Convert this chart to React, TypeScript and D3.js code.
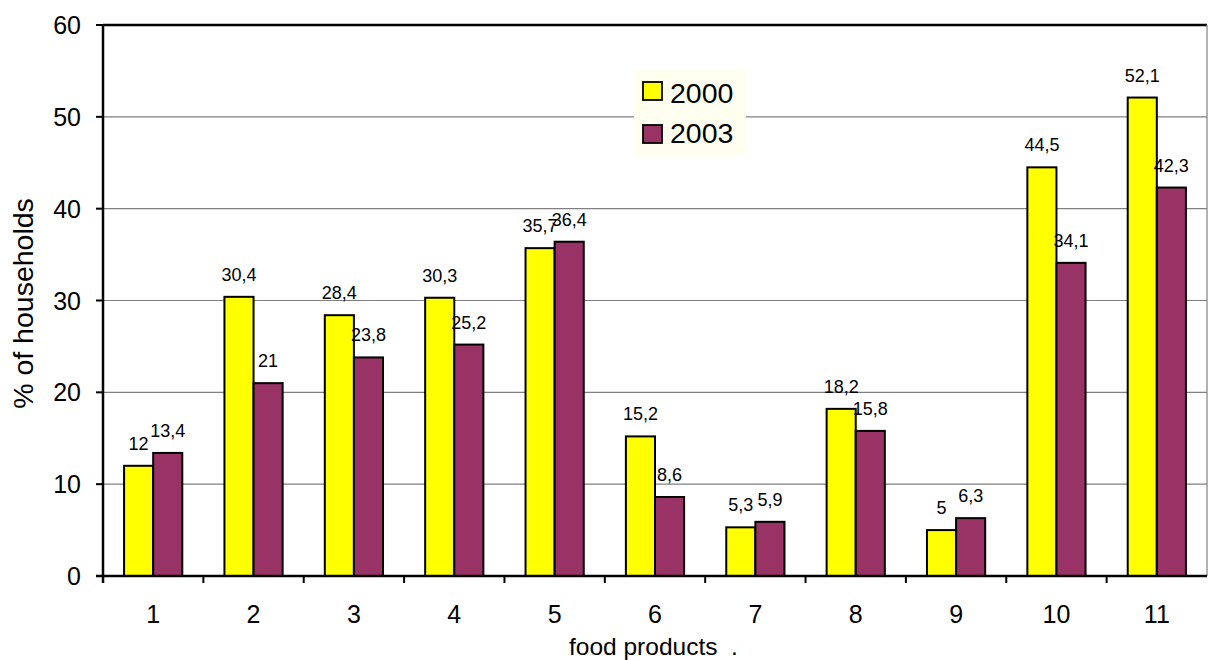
import React from "react";
import * as d3 from "d3";

const categories = ["1", "2", "3", "4", "5", "6", "7", "8", "9", "10", "11"];
const values2000 = [12, 30.4, 28.4, 30.3, 35.7, 15.2, 5.3, 18.2, 5, 44.5, 52.1];
const values2003 = [13.4, 21, 23.8, 25.2, 36.4, 8.6, 5.9, 15.8, 6.3, 34.1, 42.3];
const seriesNames = ["2000", "2003"];
const yTicks = [0, 10, 20, 30, 40, 50, 60];

const W = 1210;
const H = 660;
const left = 103;
const right = 1207;
const top = 25;
const bottom = 576;
const FONT = "'Liberation Sans', Arial, Helvetica, sans-serif";
const colors = ["#FFFF00", "#993366"];

const fmt = (v: number) => String(v).replace(".", ",");

export default function App() {
  const x = d3.scaleBand<string>().domain(categories).range([left, right]).padding(0);
  const bw = x.bandwidth();
  const groupW = bw * 0.58;
  const inner = d3
    .scaleBand<string>()
    .domain(seriesNames)
    .range([(bw - groupW) / 2, (bw + groupW) / 2])
    .padding(0);
  const y = d3.scaleLinear().domain([0, 60]).range([bottom, top]);
  const series = [values2000, values2003];

  return (
    <svg
      width={W}
      height={H}
      style={{ position: "absolute", left: 0, top: 0, background: "#fff" }}
      fontFamily={FONT}
    >
      {/* horizontal gridlines */}
      {yTicks
        .filter((t) => t > 0 && t < 60)
        .map((t) => (
          <line key={t} x1={left} x2={right} y1={y(t)} y2={y(t)} stroke="#808080" strokeWidth={1.2} />
        ))}
      {/* plot frame */}
      <line x1={left} x2={right} y1={y(60)} y2={y(60)} stroke="#000" strokeWidth={2.5} />
      <line x1={right} x2={right} y1={top} y2={bottom} stroke="#808080" strokeWidth={1.2} />

      {/* bars */}
      {series.map((vals, si) =>
        vals.map((v, i) => {
          const bx = (x(categories[i]) as number) + (inner(seriesNames[si]) as number);
          return (
            <rect
              key={`${si}-${i}`}
              x={bx}
              y={y(v)}
              width={inner.bandwidth()}
              height={y(0) - y(v)}
              fill={colors[si]}
              stroke="#000"
              strokeWidth={2}
            />
          );
        })
      )}

      {/* value labels */}
      {series.map((vals, si) =>
        vals.map((v, i) => {
          const cx =
            (x(categories[i]) as number) + (inner(seriesNames[si]) as number) + inner.bandwidth() / 2;
          return (
            <text key={`l${si}-${i}`} x={cx} y={y(v) - 16} textAnchor="middle" fontSize={18} fill="#000">
              {fmt(v)}
            </text>
          );
        })
      )}

      {/* y axis */}
      <line x1={left} x2={left} y1={top - 1} y2={bottom + 7} stroke="#000" strokeWidth={2.5} />
      {yTicks.map((t) => (
        <g key={`yt${t}`}>
          <line x1={left - 7} x2={left} y1={y(t)} y2={y(t)} stroke="#000" strokeWidth={2} />
          <text x={81} y={y(t)} dy="0.36em" textAnchor="end" fontSize={25} fill="#000">
            {t}
          </text>
        </g>
      ))}

      {/* x axis */}
      <line x1={left - 7} x2={right} y1={bottom} y2={bottom} stroke="#000" strokeWidth={2.5} />
      {categories.map((c, i) => (
        <g key={`xt${c}`}>
          {i > 0 && (
            <line
              x1={x(c) as number}
              x2={x(c) as number}
              y1={bottom}
              y2={bottom + 7}
              stroke="#000"
              strokeWidth={2}
            />
          )}
          <text x={(x(c) as number) + bw / 2} y={623} textAnchor="middle" fontSize={25} fill="#000">
            {c}
          </text>
        </g>
      ))}

      {/* axis titles */}
      <text x={569} y={655} fontSize={24.5} fill="#000" style={{ whiteSpace: "pre" }} xmlSpace="preserve">
        food products  .
      </text>
      <text
        transform={`translate(33, ${(top + bottom) / 2 + 3}) rotate(-90)`}
        textAnchor="middle"
        fontSize={28.5}
        fill="#000"
      >
        % of households
      </text>

      {/* legend */}
      <rect x={634} y={69} width={112} height={87} fill="#FFFFF0" />
      {seriesNames.map((s, i) => (
        <g key={`lg${s}`}>
          <rect x={643} y={82 + i * 43} width={19} height={18} fill={colors[i]} stroke="#000" strokeWidth={1.8} />
          <text x={670} y={103 + i * 40} fontSize={28.5} fill="#000">
            {s}
          </text>
        </g>
      ))}
    </svg>
  );
}
